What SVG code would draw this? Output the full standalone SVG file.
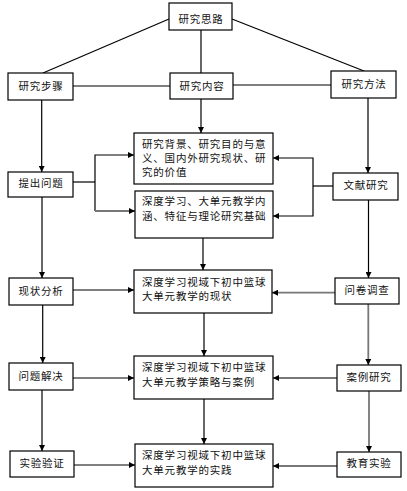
<svg xmlns="http://www.w3.org/2000/svg" width="407" height="491" viewBox="0 0 407 491">
<defs>
<marker id="ah" viewBox="0 0 10 10" refX="10" refY="5" markerWidth="6" markerHeight="6" markerUnits="userSpaceOnUse" orient="auto"><path d="M0,0 L10,5 L0,10 z" fill="#000"/></marker>
<style>
.box{fill:#fff;stroke:#000;stroke-width:1.2}
.t{font-family:"Liberation Sans","Noto Sans CJK SC",sans-serif;font-size:10.5px;fill:#111;letter-spacing:0.8px}
.c{text-anchor:middle}
.ln{fill:none;stroke:#000;stroke-width:1.2}
.g{stroke:#777;stroke-width:1.8}
.ar{marker-end:url(#ah)}
</style>
</defs>
<rect width="407" height="491" fill="#fff"/>
<g id="connectors">
<line class="ln" x1="169" y1="19" x2="43" y2="73"/>
<line class="ln" x1="232" y1="19" x2="364" y2="71"/>
<line class="ln" x1="201" y1="30" x2="201" y2="73"/>
<line class="ln" x1="73" y1="86" x2="170" y2="86"/>
<line class="ln" x1="233" y1="85" x2="331" y2="85"/>
<line class="ln ar" x1="41.7" y1="100" x2="41.7" y2="172"/>
<line class="ln ar" x1="201" y1="99" x2="201" y2="133"/>
<line class="ln ar" x1="368" y1="98" x2="368" y2="173"/>
<polyline class="ln" points="73,182 95,182"/>
<polyline class="ln ar" points="95,182 95,155 134,155"/>
<line class="ln" x1="95" y1="182" x2="95" y2="211"/>
<line class="ln g ar" x1="95" y1="211" x2="135" y2="211"/>
<polyline class="ln" points="333,186 313,186"/>
<polyline class="ln ar" points="313,186 313,158 273,158"/>
<polyline class="ln ar" points="313,186 313,216 273,216"/>
<line class="ln ar" x1="42" y1="197" x2="42" y2="278"/>
<line class="ln ar" x1="203" y1="238" x2="203" y2="270"/>
<line class="ln ar" x1="368.5" y1="200" x2="368.5" y2="278"/>
<line class="ln ar" x1="73" y1="290" x2="134" y2="290"/>
<line class="ln g ar" x1="335" y1="292.7" x2="272" y2="292.7"/>
<line class="ln ar" x1="42.7" y1="305" x2="42.7" y2="363"/>
<line class="ln ar" x1="204" y1="313" x2="204" y2="356"/>
<line class="ln g ar" x1="368.3" y1="304" x2="368.3" y2="365"/>
<line class="ln ar" x1="73" y1="378" x2="134" y2="378"/>
<line class="ln g ar" x1="337" y1="378" x2="273" y2="378"/>
<line class="ln ar" x1="42" y1="390" x2="42" y2="451"/>
<line class="ln ar" x1="204" y1="399" x2="204" y2="444"/>
<line class="ln g ar" x1="369" y1="391" x2="369" y2="452"/>
<line class="ln ar" x1="74" y1="465" x2="135" y2="465"/>
<line class="ln g ar" x1="337" y1="466" x2="273" y2="466"/>
</g>
<g id="n-silu"><rect class="box" x="169" y="3" width="63" height="27"/><text class="t c" x="201" y="23">研究思路</text></g>
<g id="n-buzhou"><rect class="box" x="8" y="73" width="65" height="27"/><text class="t c" x="41" y="90">研究步骤</text></g>
<g id="n-neirong"><rect class="box" x="170" y="73" width="63" height="26"/><text class="t c" x="202" y="89.5">研究内容</text></g>
<g id="n-fangfa"><rect class="box" x="331" y="71" width="65" height="27"/><text class="t c" x="364" y="88">研究方法</text></g>
<g id="n-tichu"><rect class="box" x="8" y="172" width="65" height="25"/><text class="t c" x="41" y="186.5">提出问题</text></g>
<g id="n-wenxian"><rect class="box" x="333" y="173" width="65" height="27"/><text class="t c" x="366" y="189">文献研究</text></g>
<g id="n-beijing"><rect class="box" x="134" y="133" width="139" height="51"/><text class="t" x="142" y="148">研究背景、研究目的与意</text><text class="t" x="142" y="162">义、国内外研究现状、研</text><text class="t" x="142" y="176">究的价值</text></g>
<g id="n-lilun"><rect class="box" x="135" y="191" width="138" height="47"/><text class="t" x="142" y="205">深度学习、大单元教学内</text><text class="t" x="142" y="220">涵、特征与理论研究基础</text></g>
<g id="n-xianzhuang"><rect class="box" x="9" y="278" width="64" height="27"/><text class="t c" x="41" y="295">现状分析</text></g>
<g id="n-xianzhuang-c"><rect class="box" x="134" y="270" width="138" height="43"/><text class="t" x="142" y="286">深度学习视域下初中篮球</text><text class="t" x="142" y="300">大单元教学的现状</text></g>
<g id="n-wenjuan"><rect class="box" x="335" y="278" width="64" height="26"/><text class="t c" x="367" y="294">问卷调查</text></g>
<g id="n-jiejue"><rect class="box" x="9" y="363" width="64" height="27"/><text class="t c" x="41" y="380">问题解决</text></g>
<g id="n-celue"><rect class="box" x="134" y="356" width="139" height="43"/><text class="t" x="142" y="371">深度学习视域下初中篮球</text><text class="t" x="142" y="386">大单元教学策略与案例</text></g>
<g id="n-anli"><rect class="box" x="337" y="365" width="64" height="26"/><text class="t c" x="369" y="381">案例研究</text></g>
<g id="n-yanzheng"><rect class="box" x="10" y="451" width="64" height="26"/><text class="t c" x="42" y="467">实验验证</text></g>
<g id="n-shijian"><rect class="box" x="135" y="444" width="138" height="43"/><text class="t" x="142" y="459">深度学习视域下初中篮球</text><text class="t" x="142" y="474">大单元教学的实践</text></g>
<g id="n-jiaoyu"><rect class="box" x="337" y="452" width="64" height="25"/><text class="t c" x="369" y="467">教育实验</text></g>
</svg>
